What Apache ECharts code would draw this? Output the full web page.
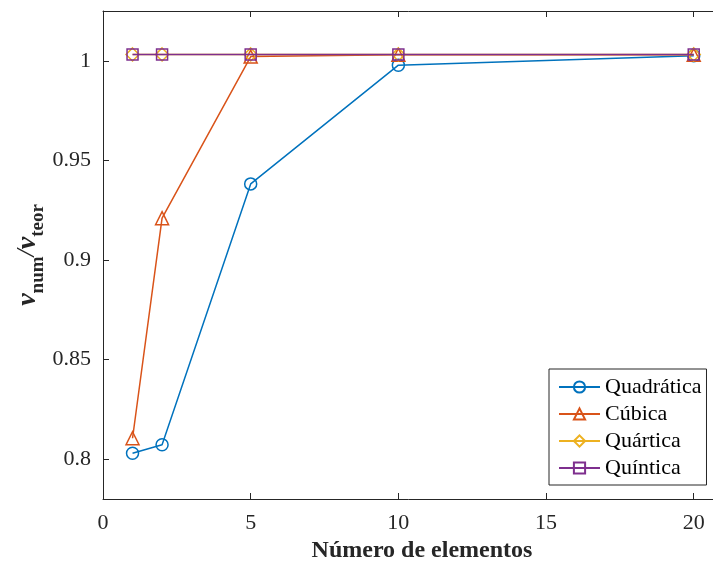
<!DOCTYPE html>
<html>
<head>
<meta charset="utf-8">
<script src="https://cdn.jsdelivr.net/npm/echarts@6/dist/echarts.min.js"></script>
<style>html,body{margin:0;padding:0;background:#fff}#c{width:713px;height:567px}</style>
</head>
<body>
<div id="c"></div>
<script>
const xValues = [1, 2, 5, 10, 20];
const seriesNames = ['Quadrática', 'Cúbica', 'Quártica', 'Quíntica'];
const quadratica = [0.8030, 0.8072, 0.9382, 0.9978, 1.0025];
const cubica = [0.8105, 0.9210, 1.0021, 1.0030, 1.0030];
const quartica = [1.0032, 1.0032, 1.0032, 1.0032, 1.0032];
const quintica = [1.0032, 1.0032, 1.0032, 1.0032, 1.0032];
const yTicks = [0.8, 0.85, 0.9, 0.95, 1];
const xTicks = [0, 5, 10, 15, 20];

const FONT = 'Liberation Serif';
const AX = '#262626';
const colors = ['#0072BD', '#D95319', '#EDB120', '#7E2F8E'];
const symbols = ['circle', 'triangle', 'diamond', 'rect'];
const sizes = [12, 13, 13, 11];
const dataSets = [quadratica, cubica, quartica, quintica];

const chart = echarts.init(document.getElementById('c'), null, {renderer: 'canvas'});
const series = seriesNames.map((n, i) => ({
  name: n,
  type: 'line',
  data: xValues.map((x, j) => [x, dataSets[i][j]]),
  symbol: symbols[i],
  symbolSize: sizes[i],
  showAllSymbol: true,
  lineStyle: {color: colors[i], width: 1.5},
  itemStyle: {color: 'transparent', borderColor: colors[i], borderWidth: 1.5},
  emphasis: {disabled: true},
  animation: false,
  z: 2 + i
}));

const baseX = {
  type: 'value', min: 0, max: 21.6, interval: 5,
  axisLine: {show: true, lineStyle: {color: AX, width: 1}},
  axisTick: {show: true, inside: true, length: 6, lineStyle: {color: AX}, customValues: xTicks},
  splitLine: {show: false}
};

chart.setOption({
  animation: false,
  grid: {left: 103, top: 11, right: -28, bottom: 68, outerBoundsMode: 'none', containLabel: false},
  legend: {
    orient: 'vertical', left: 549, top: 369,
    padding: [7, 5, 6, 9], itemGap: 5, itemWidth: 41, itemHeight: 14,
    borderColor: AX, borderWidth: 1, backgroundColor: '#fff',
    textStyle: {fontFamily: FONT, fontSize: 22, color: '#000', lineHeight: 22},
    data: seriesNames
  },
  xAxis: [
    Object.assign({}, baseX, {
      position: 'bottom',
      axisLabel: {show: true, fontFamily: FONT, fontSize: 22, color: AX, margin: 13, customValues: xTicks},
      name: 'Número de elementos', nameLocation: 'middle', nameGap: 40, nameMoveOverlap: false,
      nameTextStyle: {fontFamily: FONT, fontSize: 24, fontWeight: 'bold', color: AX, lineHeight: 24}
    }),
    Object.assign({}, baseX, {position: 'top', axisLabel: {show: false}})
  ],
  yAxis: [{
    type: 'value', min: 0.78, max: 1.025,
    axisLine: {show: true, lineStyle: {color: AX, width: 1}},
    axisTick: {show: true, inside: true, length: 6, lineStyle: {color: AX}, customValues: yTicks},
    axisLabel: {show: true, fontFamily: FONT, fontSize: 22, color: AX, margin: 12, customValues: yTicks},
    splitLine: {show: false},
    name: '{v|ν}{s|num}{sl|/}{v|ν}{s|teor}',
    nameLocation: 'middle', nameGap: 55, nameRotate: 90, nameMoveOverlap: false,
    nameTextStyle: {
      fontFamily: FONT, color: AX,
      rich: {
        v: {fontFamily: FONT, fontSize: 28, fontStyle: 'italic', fontWeight: 'bold', color: AX, lineHeight: 34, verticalAlign: 'top'},
        s: {fontFamily: FONT, fontSize: 19, fontWeight: 'bold', color: AX, lineHeight: 18, verticalAlign: 'bottom'},
        sl: {fontFamily: FONT, fontSize: 26, fontStyle: 'italic', color: AX, lineHeight: 30, verticalAlign: 'top'}
      }
    }
  }],
  series: series
});
</script>
</body>
</html>
